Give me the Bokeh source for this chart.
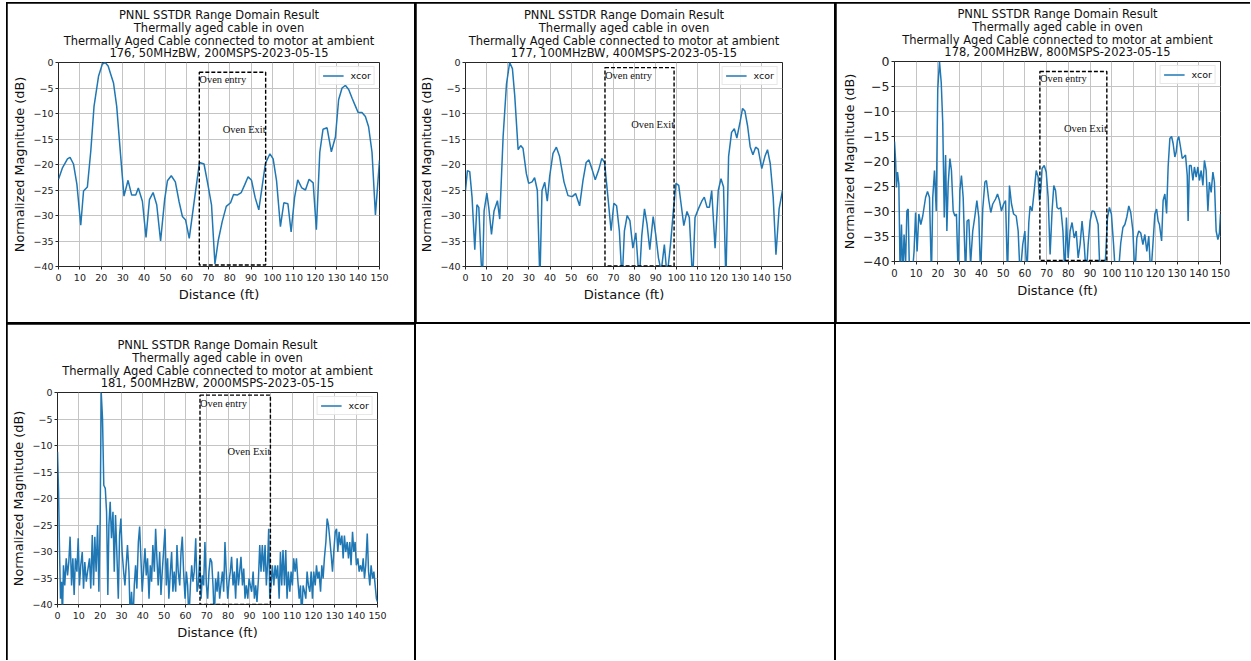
from bokeh.plotting import figure
from bokeh.models import Range1d, FixedTicker, Spacer, Title
from bokeh.layouts import row, column
from bokeh.core.properties import value
from bokeh.embed import file_html
from bokeh.resources import INLINE

# ---------------- data ----------------
title_lines = ["PNNL SSTDR Range Domain Result",
               "Thermally aged cable in oven",
               "Thermally Aged Cable connected to motor at ambient"]
run_labels = ["176, 50MHzBW, 200MSPS-2023-05-15",
              "177, 100MHzBW, 400MSPS-2023-05-15",
              "178, 200MHzBW, 800MSPS-2023-05-15",
              "181, 500MHzBW, 2000MSPS-2023-05-15"]
series_name = "xcor"
x_ticks = list(range(0, 151, 10))
y_ticks = list(range(-40, 1, 5))
x_label = "Distance (ft)"
y_label = "Normalized Magnitude (dB)"
entry_text = "Oven entry"
exit_text = "Oven Exit"

# oven region (ft / dB) per chart
oven_entry_ft = [65.8, 66.0, 66.9, 66.8]
oven_exit_ft = [96.8, 98.7, 97.7, 99.8]
oven_top_db = [-1.9, -1.0, -2.0, -0.5]
oven_bottom_db = [-39.7, -39.9, -39.8, -40.0]
entry_label_db = [-3.4, -2.5, -3.4, -2.0]
exit_label_db = [-13.1, -12.1, -13.4, -11.2]

dist_176 = [0, 1.9, 4.2, 5.4, 7.0, 8.6, 10.4, 11.7, 13.5, 15.1,
            16.6, 18.7, 20.5, 21.8, 23.2, 24.4, 25.7, 27.2, 29.1, 30.6,
            32.5, 34.2, 36.1, 37.3, 39.2, 40.9, 42.5, 44.2, 45.9, 47.7,
            49.6, 50.9, 52.7, 54.6, 56.3, 57.9, 59.4, 61.1, 63.0, 64.9,
            65.9, 68.0, 69.8, 71.5, 73.1, 74.7, 76.5, 78.4, 80.4, 81.8,
            83.5, 85.4, 87.1, 88.6, 90.2, 91.9, 93.6, 95.2, 96.7, 98.8,
            100.3, 101.9, 103.7, 105.3, 107.2, 108.7, 110.3, 111.8, 113.7, 115.4,
            117.1, 119.0, 120.5, 122.1, 123.6, 125.5, 127.5, 129.4, 130.9, 132.5,
            134.1, 135.6, 137.2, 138.8, 140.0, 141.8, 143.4, 144.9, 146.5, 148.1,
            150.0]
mag_176 = [-22.9, -20.6, -18.9, -18.6, -19.9, -23.9, -31.9, -25.2, -24.4, -17.3,
           -8.6, -2.7, -0.3, 0.0, -0.7, -2.3, -4.0, -8.6, -18.6, -26.2,
           -23.1, -26.0, -26.0, -24.6, -27.2, -34.3, -26.9, -25.5, -27.9, -35.0,
           -26.9, -23.2, -22.2, -23.4, -27.2, -30.2, -30.9, -34.5, -28.5, -22.6,
           -19.6, -19.9, -23.9, -27.9, -39.5, -34.8, -31.2, -28.2, -27.5, -25.9,
           -26.0, -25.5, -23.9, -22.4, -23.1, -26.5, -28.9, -24.2, -19.8, -17.9,
           -18.9, -23.2, -32.2, -27.5, -27.7, -33.2, -26.5, -23.0, -24.6, -25.0,
           -22.9, -23.6, -32.8, -17.6, -13.1, -12.8, -17.5, -14.6, -7.3, -5.0,
           -4.5, -5.3, -7.0, -8.6, -9.8, -9.8, -10.6, -12.6, -17.6, -29.9,
           -19.2]

dist_177 = [0, 0.9, 2.0, 3.1, 4.4, 5.4, 6.3, 7.4, 8.0, 8.8,
            10.1, 11.0, 12.3, 13.5, 15.1, 16.2, 17.8, 19.4, 20.9, 22.2,
            23.3, 24.9, 26.1, 27.2, 28.8, 29.9, 31.5, 32.7, 34.0, 35.2,
            36.2, 37.5, 38.7, 39.8, 41.4, 43.0, 44.5, 46.6, 48.5, 50.5,
            52.1, 54.0, 55.6, 57.1, 58.4, 60.0, 61.4, 63.0, 64.5, 65.8,
            67.4, 68.9, 70.2, 71.5, 72.8, 74.1, 75.2, 76.5, 77.8, 79.2,
            80.6, 82.2, 83.4, 84.7, 85.9, 87.2, 88.8, 90.0, 91.3, 92.6,
            94.1, 95.4, 97.0, 98.5, 99.6, 100.9, 102.0, 103.3, 104.8, 105.9,
            107.5, 108.6, 110.2, 111.8, 113.0, 114.3, 115.4, 116.5, 118.1, 119.6,
            120.9, 122.1, 123.2, 124.5, 125.9, 127.2, 128.4, 130.0, 131.1, 132.2,
            133.5, 134.7, 136.0, 137.3, 138.5, 140.2, 141.7, 142.9, 144.2, 145.6,
            146.9, 148.4, 150.0]
mag_177 = [-25.1, -21.2, -21.4, -26.4, -36.7, -27.9, -28.4, -39.0, -43.0, -29.1,
           -25.6, -28.4, -33.7, -29.1, -27.1, -30.7, -14.5, -4.2, 0.0, -1.2,
           -6.5, -17.1, -16.3, -16.8, -21.8, -23.7, -23.4, -22.6, -25.1, -43.0,
           -25.1, -23.5, -27.2, -22.4, -17.8, -16.6, -18.4, -23.4, -26.1, -26.3,
           -25.7, -28.1, -23.1, -19.6, -19.1, -21.1, -23.0, -21.1, -18.8, -19.6,
           -26.4, -33.0, -27.6, -28.1, -33.0, -43.0, -33.0, -30.0, -31.0, -36.4,
           -33.4, -43.0, -34.0, -28.7, -31.7, -36.7, -30.2, -33.7, -38.3, -41.0,
           -35.7, -42.0, -35.7, -28.4, -23.7, -24.1, -27.7, -32.0, -29.2, -30.4,
           -43.0, -30.4, -28.7, -27.2, -26.4, -28.4, -28.4, -25.1, -36.4, -25.1,
           -22.8, -24.4, -43.0, -18.4, -13.7, -13.0, -14.8, -11.5, -9.0, -9.5,
           -12.5, -16.5, -18.1, -16.6, -17.0, -20.8, -18.4, -17.1, -19.8, -26.4,
           -37.7, -28.7, -25.1]

dist_178 = [0, 0.5, 0.9, 1.4, 2.0, 2.6, 3.2, 3.8, 4.4, 5.1,
            5.7, 6.3, 6.9, 8.1, 9.0, 9.7, 10.4, 11.2, 12.1, 13.0,
            14.3, 15.2, 16.1, 17.0, 17.6, 18.4, 19.2, 19.9, 20.7, 21.5,
            22.2, 22.9, 23.5, 24.1, 24.7, 25.5, 26.2, 27.0, 27.8, 28.5,
            29.3, 30.1, 30.8, 31.6, 32.7, 33.4, 34.2, 35.0, 36.0, 37.0,
            37.9, 38.8, 39.6, 40.6, 41.6, 42.3, 43.4, 44.3, 45.2, 46.5,
            47.4, 48.3, 49.2, 50.2, 51.1, 52.0, 52.9, 53.8, 54.8, 56.0,
            56.9, 57.8, 59.0, 60.0, 60.9, 61.8, 62.4, 63.3, 64.3, 65.2,
            66.1, 66.7, 67.3, 67.9, 68.9, 69.8, 70.7, 71.6, 72.5, 73.3,
            74.1, 74.8, 75.6, 76.5, 77.5, 78.4, 79.1, 79.9, 80.8, 81.7,
            82.7, 83.6, 84.5, 85.4, 86.3, 87.3, 88.2, 89.1, 90.0, 90.9,
            91.9, 92.8, 93.7, 94.6, 95.8, 97.1, 98.0, 98.9, 99.8, 100.8,
            101.7, 102.9, 104.1, 105.1, 106.0, 106.9, 107.8, 108.7, 109.7, 110.6,
            111.5, 112.4, 113.3, 114.3, 115.2, 116.1, 117.0, 117.9, 118.9, 119.8,
            120.6, 121.3, 121.9, 122.9, 123.6, 124.4, 125.2, 125.9, 126.7, 127.5,
            128.2, 129.0, 129.6, 130.2, 130.8, 131.6, 132.4, 133.1, 133.9, 134.7,
            135.1, 135.7, 136.5, 137.3, 138.0, 138.8, 139.6, 140.3, 141.1, 141.9,
            142.6, 143.4, 144.2, 144.9, 145.7, 146.5, 147.2, 148.0, 148.8, 149.5,
            150.0]
mag_178 = [-16.0, -19.8, -25.2, -22.1, -24.5, -43.0, -32.6, -43.0, -34.6, -40.5,
           -29.9, -29.5, -43.0, -43.0, -38.0, -30.2, -38.0, -30.5, -32.6, -30.9,
           -27.2, -26.0, -27.2, -43.0, -27.2, -21.8, -29.9, -5.6, 0.0, -4.2,
           -12.3, -31.2, -18.7, -33.9, -24.5, -19.4, -21.8, -29.9, -30.9, -30.5,
           -43.0, -25.8, -22.8, -27.2, -43.0, -31.9, -31.6, -40.5, -33.9, -30.9,
           -27.8, -31.2, -43.0, -29.5, -24.1, -23.8, -27.8, -30.2, -28.5, -27.5,
           -26.5, -27.8, -29.9, -28.5, -27.8, -43.0, -24.8, -28.4, -30.5, -30.9,
           -33.9, -43.0, -36.6, -33.9, -43.0, -32.2, -28.9, -29.9, -25.8, -21.8,
           -23.1, -27.8, -25.8, -21.4, -20.8, -22.1, -27.2, -38.6, -29.9, -24.8,
           -25.8, -29.2, -29.5, -29.2, -33.9, -43.0, -31.2, -39.3, -33.9, -32.2,
           -35.3, -33.9, -39.3, -36.6, -31.9, -36.6, -43.0, -36.6, -31.9, -29.9,
           -30.0, -31.2, -32.6, -43.0, -43.0, -39.3, -31.2, -29.2, -30.5, -36.6,
           -43.0, -43.0, -36.3, -33.2, -32.6, -31.1, -28.9, -30.2, -33.9, -43.0,
           -35.3, -33.9, -34.3, -36.6, -34.6, -38.0, -34.9, -43.0, -36.6, -30.5,
           -29.5, -31.9, -32.6, -35.9, -27.8, -26.5, -30.4, -21.1, -15.4, -15.0,
           -16.4, -19.1, -18.1, -15.7, -15.0, -17.1, -19.4, -19.1, -18.7, -22.8,
           -31.9, -20.8, -20.8, -23.8, -21.1, -23.1, -21.1, -23.8, -21.8, -24.8,
           -19.8, -21.8, -29.9, -24.1, -26.2, -22.1, -24.1, -33.9, -35.6, -34.3,
           -30.5]

dist_181 = [0, 0.5, 0.9, 1.4, 1.9, 2.3, 2.8, 3.4, 4.1, 4.7,
            5.3, 5.9, 6.6, 7.2, 7.8, 8.4, 9.1, 9.7, 10.3, 10.9,
            11.6, 12.2, 12.8, 13.5, 14.1, 15.0, 15.6, 16.3, 16.9, 17.5,
            18.1, 18.8, 19.4, 20.0, 20.5, 21.1, 21.7, 22.4, 23.0, 23.6,
            24.1, 24.7, 25.3, 26.0, 26.6, 27.2, 27.8, 28.5, 29.1, 29.7,
            30.3, 31.0, 31.6, 32.2, 32.8, 33.5, 34.1, 34.7, 35.4, 36.0,
            36.6, 37.2, 37.9, 38.5, 39.1, 39.7, 40.4, 41.0, 41.6, 42.2,
            42.9, 43.5, 44.1, 44.7, 45.4, 46.0, 46.6, 47.2, 47.9, 48.5,
            49.1, 49.7, 50.4, 51.0, 51.6, 52.2, 52.9, 53.5, 54.1, 54.7,
            55.4, 56.0, 56.6, 57.3, 57.9, 58.5, 59.1, 59.8, 60.4, 61.0,
            61.6, 62.3, 62.9, 63.5, 64.1, 64.8, 65.4, 66.0, 66.7, 67.3,
            67.9, 68.5, 69.1, 69.8, 70.4, 71.0, 71.6, 72.3, 72.9, 73.5,
            74.1, 74.8, 75.4, 76.0, 76.6, 77.3, 77.9, 78.5, 79.1, 79.8,
            80.4, 81.0, 81.6, 82.3, 82.9, 83.5, 84.2, 84.8, 85.4, 86.0,
            86.7, 87.3, 87.9, 88.5, 89.2, 89.8, 90.4, 91.0, 91.7, 92.3,
            92.9, 93.5, 94.2, 94.8, 95.4, 96.0, 96.7, 97.3, 97.9, 98.5,
            99.0, 99.5, 100.1, 100.7, 101.4, 102.0, 102.6, 103.2, 103.9, 104.5,
            105.1, 105.7, 106.4, 107.0, 107.6, 108.2, 108.9, 109.5, 110.1, 110.7,
            111.4, 112.0, 112.6, 113.3, 113.9, 114.5, 115.1, 115.8, 116.4, 117.0,
            117.6, 118.3, 118.9, 119.5, 120.1, 120.8, 121.4, 122.0, 122.6, 123.3,
            123.9, 124.5, 125.1, 125.8, 126.4, 127.0, 127.6, 128.3, 128.9, 129.5,
            130.2, 130.8, 131.4, 132.0, 132.6, 133.3, 133.9, 134.5, 135.1, 135.8,
            136.4, 137.0, 137.6, 138.3, 138.9, 139.5, 140.1, 140.8, 141.4, 142.0,
            142.7, 143.3, 143.9, 144.5, 145.2, 145.8, 146.4, 147.0, 147.7, 148.3,
            148.9, 149.5, 150.0]
mag_181 = [-11.2, -18.7, -28.8, -38.9, -35.7, -43.0, -32.6, -36.4, -31.3, -34.5,
           -32.0, -27.2, -36.4, -31.3, -38.2, -31.3, -33.8, -27.5, -36.4, -32.6,
           -30.1, -37.0, -32.0, -35.7, -33.8, -31.3, -37.0, -26.9, -36.4, -27.2,
           -33.8, -25.0, -37.6, -23.8, 0.0, -4.9, -17.5, -18.1, -22.5, -38.2,
           -25.0, -20.6, -27.5, -22.5, -33.8, -23.1, -30.1, -38.9, -26.9, -23.8,
           -30.1, -33.8, -36.4, -32.6, -28.8, -33.8, -43.0, -37.6, -43.0, -36.4,
           -32.6, -37.0, -28.2, -25.3, -31.3, -37.6, -33.2, -29.4, -34.5, -31.3,
           -38.9, -32.6, -35.7, -28.8, -33.8, -25.7, -31.3, -36.4, -30.1, -38.2,
           -33.8, -30.1, -25.7, -36.4, -31.3, -38.9, -33.8, -30.1, -37.6, -33.8,
           -37.6, -28.8, -33.8, -36.4, -30.1, -27.2, -33.8, -38.9, -33.8, -36.4,
           -43.0, -36.4, -32.6, -35.7, -33.8, -27.5, -37.6, -36.4, -31.0, -38.9,
           -34.5, -36.4, -28.2, -36.4, -38.9, -33.8, -31.3, -32.0, -36.4, -43.0,
           -35.1, -37.6, -33.8, -38.9, -36.4, -33.8, -37.6, -28.2, -33.8, -38.9,
           -35.7, -33.8, -31.0, -36.4, -33.8, -38.9, -31.3, -36.4, -33.8, -31.0,
           -36.4, -33.2, -38.9, -36.4, -38.9, -35.1, -36.4, -37.6, -33.8, -38.9,
           -36.4, -39.5, -35.1, -28.8, -33.8, -28.8, -33.8, -28.8, -36.4, -32.0,
           -25.7, -38.9, -36.4, -32.6, -36.4, -32.6, -35.1, -32.6, -38.9, -30.1,
           -36.4, -29.7, -36.4, -29.7, -38.9, -33.8, -37.6, -33.8, -36.4, -31.3,
           -33.8, -31.3, -35.1, -38.9, -36.4, -43.0, -36.4, -37.6, -38.9, -33.8,
           -36.4, -37.6, -33.8, -38.9, -33.8, -36.4, -32.6, -35.1, -33.8, -37.6,
           -32.6, -35.1, -31.3, -28.2, -23.8, -25.0, -27.5, -30.7, -33.8, -30.1,
           -26.3, -25.7, -30.1, -26.3, -28.8, -27.0, -31.3, -27.0, -30.1, -28.2,
           -31.3, -28.2, -32.6, -26.3, -30.1, -28.2, -32.6, -31.3, -33.8, -32.6,
           -33.8, -31.3, -35.1, -32.6, -26.6, -33.8, -36.4, -32.6, -35.1, -33.8,
           -36.4, -38.9, -39.5]

dists = [dist_176, dist_177, dist_178, dist_181]
mags = [mag_176, mag_177, mag_178, mag_181]

# ---------------- styling / layout ----------------
LINE_BLUE = "#1f77b4"
FONT = "DejaVu Sans"
TITLE_PX = "11.5px"
# standoffs of the stacked title lines, from the line nearest the frame outwards
TITLE_STANDOFFS = [4.7, -12.3, 5.7, -12.3]


def style_title(t, standoff):
    t.align = "center"
    t.text_font = FONT
    t.text_font_size = TITLE_PX
    t.text_font_style = "normal"
    t.text_color = "#111111"
    t.standoff = standoff
    t.offset = 0


def make_chart(i, w, h, borders, ytick_px="9.5px", xtick_px="9.5px", ylab_px="12.8px"):
    bl, br, bt, bb = borders
    p = figure(width=w, height=h, x_range=Range1d(0, 150), y_range=Range1d(-40, 0),
               output_backend="svg", toolbar_location=None,
               min_border_left=bl, min_border_right=br,
               min_border_top=bt, min_border_bottom=bb,
               background_fill_color="white", border_fill_color="white",
               title=title_lines[0])
    style_title(p.title, TITLE_STANDOFFS[3])
    # titles added later sit farther from the frame
    for line, so in zip([run_labels[i], title_lines[2], title_lines[1]], TITLE_STANDOFFS[:3]):
        t = Title(text=line)
        style_title(t, so)
        p.add_layout(t, "above")

    p.outline_line_color = "#262626"
    p.outline_line_width = 1
    p.grid.grid_line_color = "#c4c4c4"
    p.grid.grid_line_width = 1

    p.xaxis.ticker = FixedTicker(ticks=x_ticks)
    p.yaxis.ticker = FixedTicker(ticks=y_ticks)
    p.yaxis.major_label_overrides = {t: ("\u2212%d" % (-t) if t < 0 else "%d" % t) for t in y_ticks}
    p.xaxis.axis_label = x_label
    p.yaxis.axis_label = y_label
    for ax in (p.xaxis[0], p.yaxis[0]):
        ax.axis_line_color = None
        ax.major_tick_line_color = "#262626"
        ax.major_tick_in = 0
        ax.major_tick_out = 3
        ax.minor_tick_line_color = None
        ax.major_label_text_font = FONT
        ax.major_label_text_color = "#222222"
        ax.major_label_standoff = 2
        ax.axis_label_text_font = FONT
        ax.axis_label_text_font_style = "normal"
        ax.axis_label_text_color = "#111111"
        ax.axis_label_standoff = 3
    p.xaxis.major_label_standoff = 4
    p.xaxis.major_label_text_font_size = xtick_px
    p.yaxis.major_label_text_font_size = ytick_px
    p.xaxis.axis_label_text_font_size = "13px"
    p.yaxis.axis_label_text_font_size = ylab_px

    p.line(dists[i], mags[i], color=LINE_BLUE, line_width=1.5, legend_label=series_name)

    p.quad(left=[oven_entry_ft[i]], right=[oven_exit_ft[i]],
           top=[oven_top_db[i]], bottom=[oven_bottom_db[i]],
           fill_color=None, line_color="black", line_width=1.4, line_dash="4 2")
    p.text(x=[oven_entry_ft[i]], y=[entry_label_db[i]], text=[entry_text],
           text_font=value("Liberation Serif"), text_font_size="10.5px",
           text_color="#111111", text_align="left", text_baseline="middle")
    p.text(x=[oven_exit_ft[i]], y=[exit_label_db[i]], text=[exit_text],
           text_font=value("Liberation Serif"), text_font_size="10.5px",
           text_color="#111111", text_align="right", text_baseline="middle")

    lg = p.legend[0]
    lg.location = "top_right"
    lg.margin = 4
    lg.padding = 3
    lg.spacing = 0
    lg.glyph_width = 21
    lg.glyph_height = 11
    lg.label_height = 11
    lg.label_standoff = 7
    lg.label_text_font = FONT
    lg.label_text_font_size = "9.5px"
    lg.label_text_color = "#111111"
    lg.border_line_color = "#d0d0d0"
    lg.border_line_width = 1
    lg.background_fill_alpha = 0.85
    return p


c1 = make_chart(0, 407, 319, (51, 35, 59, 56))
c2 = make_chart(1, 418, 319, (48, 52, 59, 56))
c3 = make_chart(2, 414, 319, (58, 30, 58, 61), ytick_px="12.5px", xtick_px="10px")
c4 = make_chart(3, 407, 336, (50, 37, 68, 56))
c5 = Spacer(width=418, height=336, styles={"background-color": "white"})
c6 = Spacer(width=414, height=336, styles={"background-color": "white"})

# each chart in its own box so that plot frames are not aligned across the row
top_row = row(column(c1), column(c2), column(c3), spacing=2)
bottom_row = row(column(c4), c5, c6, spacing=2)
page = column(top_row, bottom_row, spacing=2,
              styles={"background-color": "black", "padding": "1px 0px 0px 1px"},
              margin=(2, 0, 0, 6))

open("out.html", "w").write(file_html(page, INLINE))
